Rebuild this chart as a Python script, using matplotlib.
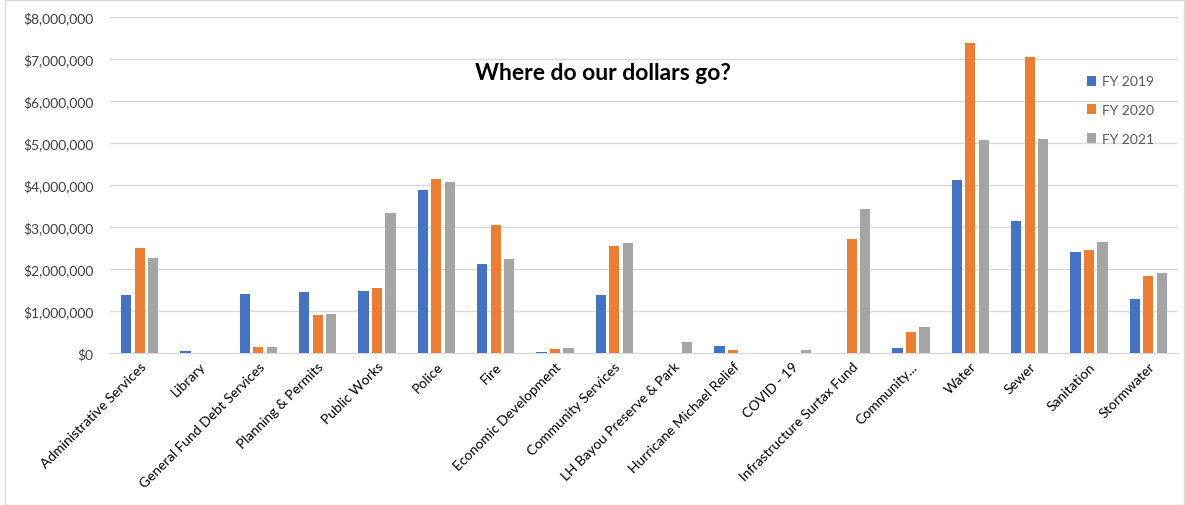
import matplotlib
matplotlib.use("Agg")
import matplotlib.pyplot as plt
import numpy as np
from matplotlib.ticker import FuncFormatter
from matplotlib.patches import Rectangle

categories = ["Administrative Services", "Library", "General Fund Debt Services",
              "Planning & Permits", "Public Works", "Police", "Fire",
              "Economic Development", "Community Services", "LH Bayou Preserve & Park",
              "Hurricane Michael Relief", "COVID - 19", "Infrastructure Surtax Fund",
              "Community...", "Water", "Sewer", "Sanitation", "Stormwater"]
fy2019 = [1380000, 48000, 1400000, 1450000, 1480000, 3880000, 2120000, 30000,
          1370000, 0, 170000, 0, 0, 110000, 4120000, 3140000, 2400000, 1290000]
fy2020 = [2500000, 0, 150000, 900000, 1540000, 4140000, 3050000, 90000,
          2540000, 0, 60000, 0, 2710000, 510000, 7380000, 7050000, 2450000, 1830000]
fy2021 = [2260000, 0, 150000, 930000, 3330000, 4070000, 2240000, 130000,
          2620000, 270000, 0, 60000, 3430000, 620000, 5070000, 5100000, 2640000, 1900000]
series_names = ["FY 2019", "FY 2020", "FY 2021"]
colors = ["#4472C4", "#ED7D31", "#A5A5A5"]

plt.rcParams['font.family'] = ['Lato', 'DejaVu Sans']

fig = plt.figure(figsize=(11.85, 5.06), dpi=100)
ax = fig.add_axes([110/1185, 1-354/506, (1178-110)/1185, (354-18)/506])

x = np.arange(len(categories))
w = 0.174
step = 0.225
for i, (vals, name, c) in enumerate(zip([fy2019, fy2020, fy2021], series_names, colors)):
    ax.bar(x + (i-1)*step, vals, width=w, color=c, label=name, zorder=3)

ax.set_xlim(-0.5, len(categories)-0.5)
ax.set_ylim(0, 8000000)
ax.set_yticks(np.arange(0, 8000001, 1000000))
ax.yaxis.set_major_formatter(FuncFormatter(lambda v, p: "${:,.0f}".format(v)))
ax.grid(axis='y', color='#D9D9D9', linewidth=1, zorder=0)
ax.set_axisbelow(True)
for s in ['top', 'right', 'left']:
    ax.spines[s].set_visible(False)
ax.spines['bottom'].set_color('#D9D9D9')
ax.tick_params(axis='y', length=0, pad=12, labelsize=10, labelcolor='#404040')
ax.tick_params(axis='x', length=0, pad=5, labelsize=10, labelcolor='#000000')
ax.set_xticks(x)
ax.set_xticklabels(categories, rotation=45, ha='right', rotation_mode='anchor')

fig.text(603/1185, 1-73/506, "Where do our dollars go?", fontsize=16.5,
         fontweight='bold', ha='center', va='center', color='#000000')

ax.legend(loc='upper left', bbox_to_anchor=(1074/1185, 1-64/506),
          bbox_transform=fig.transFigure, frameon=False, fontsize=10,
          handlelength=0.7, handleheight=0.7, handletextpad=0.4,
          labelspacing=1.2, labelcolor='#595959')

fig.patches.append(Rectangle((5/1185, 0.5/506), 1-6/1185, 1-1/506, transform=fig.transFigure,
                             fill=False, edgecolor='#D9D9D9', linewidth=1))

fig.savefig("out.png", dpi=100)
